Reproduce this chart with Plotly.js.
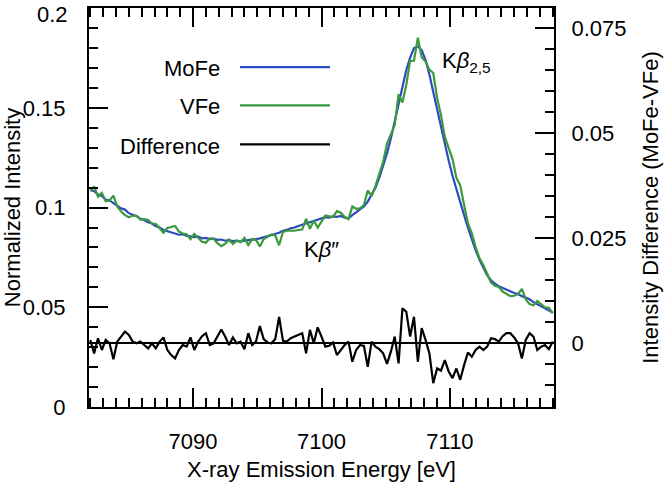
<!DOCTYPE html>
<html><head><meta charset="utf-8">
<script src="https://cdn.plot.ly/plotly-3.0.1.min.js"></script>
<style>html,body{margin:0;padding:0;background:#fff}#chart{width:666px;height:482px}</style>
</head><body><div id="chart"></div>
<script>
// X-ray emission energy grid (eV): first point and spacing
const energyStart = 7082.0;
const energyStep = 0.3;

// Normalized intensity, MoFe protein
const mofe = [
0.1090,0.1082,0.1066,0.1058,0.1040,0.1036,0.1022,0.1010,0.0996,0.0990,
0.0972,0.0964,0.0958,0.0944,0.0938,0.0926,0.0920,0.0906,0.0900,0.0888,
0.0882,0.0876,0.0872,0.0864,0.0866,0.0858,0.0856,0.0852,0.0854,0.0846,
0.0848,0.0842,0.0844,0.0838,0.0840,0.0834,0.0836,0.0832,0.0834,0.0830,
0.0834,0.0836,0.0838,0.0842,0.0846,0.0852,0.0856,0.0864,0.0870,0.0874,
0.0884,0.0888,0.0896,0.0900,0.0908,0.0914,0.0920,0.0926,0.0934,0.0938,
0.0946,0.0952,0.0950,0.0956,0.0954,0.0958,0.0950,0.0946,0.0962,0.0978,
0.0992,0.1006,0.1030,0.1062,0.1100,0.1150,0.1206,0.1272,0.1346,0.1430,
0.1520,0.1610,0.1690,0.1752,0.1800,0.1808,0.1790,0.1740,0.1668,0.1580,
0.1490,0.1400,0.1316,0.1236,0.1160,0.1090,0.1024,0.0962,0.0900,0.0840,
0.0786,0.0738,0.0696,0.0660,0.0636,0.0618,0.0606,0.0596,0.0590,0.0580,
0.0572,0.0566,0.0556,0.0548,0.0540,0.0526,0.0516,0.0506,0.0496,0.0484,
0.0474];

// Normalized intensity, VFe protein
const vfe = [
0.1082,0.1106,0.1054,0.1074,0.1032,0.1036,0.1060,0.1006,0.0980,0.0962,
0.0952,0.0960,0.0958,0.0940,0.0942,0.0938,0.0920,0.0918,0.0896,0.0874,
0.0898,0.0904,0.0908,0.0880,0.0870,0.0866,0.0842,0.0868,0.0850,0.0829,
0.0824,0.0846,0.0844,0.0822,0.0807,0.0818,0.0840,0.0818,0.0834,0.0826,
0.0848,0.0812,0.0842,0.0838,0.0805,0.0842,0.0854,0.0864,0.0860,0.0811,
0.0878,0.0884,0.0884,0.0884,0.0888,0.0890,0.0944,0.0894,0.0934,0.0900,
0.0930,0.0960,0.0956,0.0954,0.0982,0.0974,0.0954,0.0942,0.1006,0.0994,
0.0996,0.1012,0.1086,0.1058,0.1108,0.1164,0.1230,0.1321,0.1366,0.1414,
0.1568,0.1527,0.1615,0.1736,0.1737,0.1852,0.1754,0.1732,0.1692,0.1675,
0.1550,0.1465,0.1356,0.1303,0.1243,0.1150,0.1111,0.1014,0.0922,0.0872,
0.0802,0.0746,0.0712,0.0668,0.0624,0.0608,0.0602,0.0579,0.0566,0.0556,
0.0558,0.0566,0.0592,0.0540,0.0516,0.0510,0.0532,0.0514,0.0500,0.0498,
0.0470];

// Intensity difference (MoFe - VFe), right axis
const diff = [
0.0008,-0.0024,0.0012,-0.0016,0.0008,0.0000,-0.0038,0.0004,0.0016,0.0028,
0.0020,0.0004,0.0000,0.0004,-0.0004,-0.0012,0.0000,-0.0012,0.0004,0.0014,
-0.0016,-0.0028,-0.0036,-0.0016,-0.0004,-0.0008,0.0014,-0.0016,0.0004,0.0017,
0.0024,-0.0004,0.0000,0.0016,0.0033,0.0016,-0.0004,0.0014,0.0000,0.0004,
-0.0014,0.0024,-0.0004,0.0004,0.0041,0.0010,0.0002,0.0000,0.0010,0.0063,
0.0006,0.0004,0.0012,0.0016,0.0020,0.0024,-0.0024,0.0032,0.0000,0.0038,
0.0016,-0.0008,-0.0006,0.0002,-0.0028,-0.0016,-0.0004,0.0004,-0.0044,-0.0016,
-0.0004,-0.0006,-0.0056,0.0004,-0.0008,-0.0014,-0.0024,-0.0049,-0.0020,0.0016,
-0.0048,0.0083,0.0075,0.0016,0.0063,-0.0044,0.0036,0.0008,-0.0024,-0.0095,
-0.0060,-0.0065,-0.0040,-0.0067,-0.0083,-0.0060,-0.0087,-0.0052,-0.0022,-0.0032,
-0.0016,-0.0008,-0.0016,-0.0008,0.0012,0.0010,0.0004,0.0017,0.0024,0.0024,
0.0014,0.0000,-0.0036,0.0008,0.0024,0.0016,-0.0016,-0.0008,-0.0004,-0.0014,
0.0004];

// left-axis tick values and labels (the top label "0.2" is placed just inside the page)
const leftTickVals = [0, 0.05, 0.1, 0.15, 0.2];
const leftTickText = ['0', '0.05', '0.1', '0.15', '0.2'];

const seriesNames = ['MoFe', 'VFe', 'Difference'];
const seriesColors = ['#2c4ac2', '#3a9a3c', '#000000'];
const peakLabels = ['K<i>β</i><sub>2,5</sub>', 'K<i>β</i>″'];

const FONT = '"Liberation Sans", Arial, Helvetica, sans-serif';
const FS = 22;

const traces = [
  {x0: energyStart, dx: energyStep, y: mofe, type: 'scatter', mode: 'lines',
   name: seriesNames[0], line: {color: seriesColors[0], width: 2.2}, yaxis: 'y'},
  {x0: energyStart, dx: energyStep, y: vfe, type: 'scatter', mode: 'lines',
   name: seriesNames[1], line: {color: seriesColors[1], width: 2.2}, yaxis: 'y'},
  {x0: energyStart, dx: energyStep, y: diff, type: 'scatter', mode: 'lines',
   name: seriesNames[2], line: {color: seriesColors[2], width: 2.2}, yaxis: 'y2'}
];

// hand-drawn legend (text left of line, like the original)
const legY = [0.852, 0.756, 0.658];
const shapes = [];
const annotations = [];
for (let i = 0; i < 3; i++) {
  shapes.push({type: 'line', xref: 'paper', yref: 'paper', x0: 0.3247, x1: 0.5183,
    y0: legY[i], y1: legY[i], line: {color: seriesColors[i], width: 2.2}});
  annotations.push({xref: 'paper', yref: 'paper', x: 0.2854, y: legY[i] - 0.004,
    xanchor: 'right', yanchor: 'middle', text: seriesNames[i], showarrow: false,
    font: {family: FONT, size: FS, color: '#000'}});
}
annotations.push({xref: 'x', yref: 'y', x: 7109.2, y: 0.173, xanchor: 'left', yanchor: 'middle',
  text: peakLabels[0], showarrow: false, font: {family: FONT, size: FS, color: '#000'}});
annotations.push({xref: 'x', yref: 'y', x: 7098.5, y: 0.079, xanchor: 'left', yanchor: 'middle',
  text: peakLabels[1], showarrow: false, font: {family: FONT, size: FS, color: '#000'}});
// top left-axis label, kept inside the page edge
annotations.push({xref: 'paper', yref: 'paper', x: -0.0415, y: 1, xanchor: 'right', yanchor: 'top',
  yshift: 8, text: leftTickText[4], showarrow: false, font: {family: FONT, size: FS, color: '#000'}});

const axCommon = {
  showline: true, linecolor: '#000', linewidth: 2, showgrid: false,
  ticks: 'inside', ticklen: 19, tickwidth: 2, tickcolor: '#000',
  tickfont: {family: FONT, size: FS, color: '#000'}, zeroline: false
};
const xRange = [7081.9, 7118.1];

const layout = {
  width: 666, height: 482,
  margin: {l: 89, r: 112, t: 8, b: 75, pad: 0},
  paper_bgcolor: '#fff', plot_bgcolor: '#fff',
  showlegend: false,
  font: {family: FONT, size: FS, color: '#000'},
  xaxis: Object.assign({}, axCommon, {
    range: xRange, tick0: 7090, dtick: 10,
    ticklabelstandoff: 14,
    minor: {dtick: 1, ticks: 'inside', ticklen: 9, tickwidth: 2, tickcolor: '#000'},
    title: {text: 'X-ray Emission Energy [eV]', font: {family: FONT, size: FS, color: '#000'}, standoff: 9}
  }),
  xaxis2: Object.assign({}, axCommon, {
    overlaying: 'x', side: 'top', anchor: 'y', range: xRange, tick0: 7090, dtick: 10,
    showticklabels: false,
    minor: {dtick: 1, ticks: 'inside', ticklen: 9, tickwidth: 2, tickcolor: '#000'}
  }),
  yaxis: Object.assign({}, axCommon, {
    range: [0, 0.2001], tickmode: 'array', tickvals: leftTickVals.slice(0, 4),
    ticktext: leftTickText.slice(0, 4),
    ticklabelstandoff: 17,
    minor: {dtick: 0.01, tick0: 0, ticks: 'inside', ticklen: 9, tickwidth: 2, tickcolor: '#000'},
    title: {text: 'Normalized Intensity', font: {family: FONT, size: FS, color: '#000'}, standoff: 6}
  }),
  yaxis2: Object.assign({}, axCommon, {
    overlaying: 'y', side: 'right', range: [-0.01517, 0.07983], tick0: 0, dtick: 0.025,
    ticklabelstandoff: 11,
    zeroline: true, zerolinecolor: '#000', zerolinewidth: 2,
    minor: {dtick: 0.005, ticks: 'inside', ticklen: 9, tickwidth: 2, tickcolor: '#000'},
    title: {text: 'Intensity Difference (MoFe-VFe)', font: {family: FONT, size: FS, color: '#000'}, standoff: 17}
  }),
  shapes: shapes,
  annotations: annotations
};

// invisible helper so the top axis is drawn
traces.push({x: xRange, y: [null, null], xaxis: 'x2', yaxis: 'y', type: 'scatter', mode: 'lines',
  showlegend: false, hoverinfo: 'skip'});

Plotly.newPlot('chart', traces, layout, {displayModeBar: false, staticPlot: true});
</script>
</body></html>
